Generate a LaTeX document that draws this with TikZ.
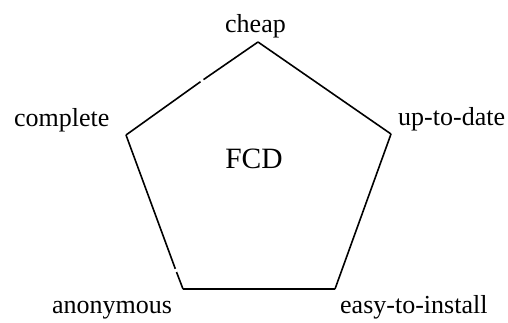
\documentclass[tikz,border=0pt]{standalone}
\usepackage{fontspec}
\setmainfont{Liberation Serif}
\begin{document}
\begin{tikzpicture}[x=1pt,y=-1pt,
  edge/.style={draw=black,line width=1.6pt},
  attr/.style={inner sep=0pt,anchor=base west,font=\fontsize{26}{30}\selectfont},
  title/.style={inner sep=0pt,anchor=base,font=\fontsize{29.5}{34}\selectfont}]
\useasboundingbox (0,0) rectangle (508,322);
% corners of the pentagon
\coordinate (vt) at (258,42);
\coordinate (vr) at (391,134);
\coordinate (vbr) at (335,289);
\coordinate (vbl) at (183,289);
\coordinate (vl) at (126,135);
% small breaks in two of the sides
\coordinate (g1a) at (200.5,81.7);
\coordinate (g1b) at (203.5,79.6);
\coordinate (g2a) at (176.5,272);
\coordinate (g2b) at (175.3,268.8);
% sides
\draw[edge] (vt) -- (vr);
\draw[edge] (vr) -- (vbr);
\draw[edge] (vbr) -- (vbl);
\draw[edge] (vbl) -- (g2a);
\draw[edge] (g2b) -- (vl);
\draw[edge] (vl) -- (g1a);
\draw[edge] (g1b) -- (vt);
% labels
\node[attr] (cheap) at (225,32) {cheap};
\node[attr] (complete) at (14,126) {complete};
\node[attr] (uptodate) at (398,125) {up-to-date};
\node[attr] (anon) at (52,313) {anonymous};
\node[attr] (easy) at (340,313) {easy-to-install};
\node[title] (fcd) at (254,168) {FCD};
\end{tikzpicture}
\end{document}
